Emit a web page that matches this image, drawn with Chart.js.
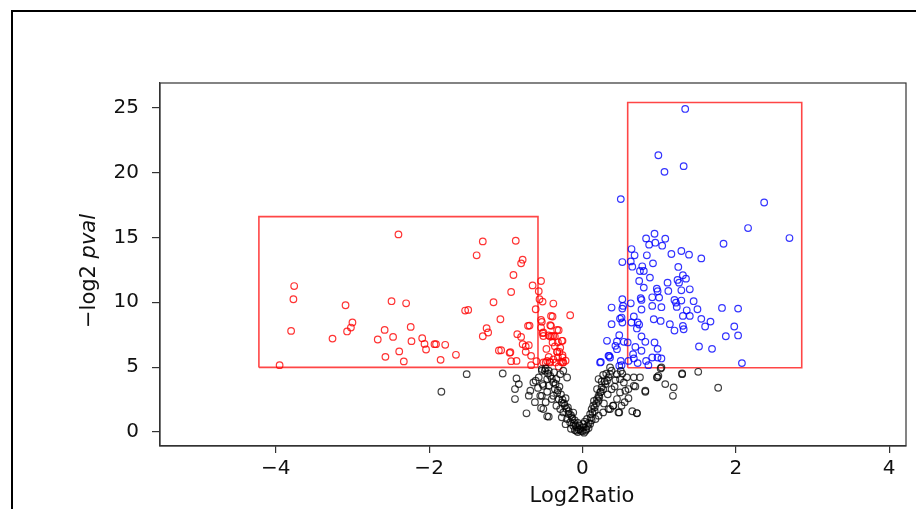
<!DOCTYPE html>
<html>
<head>
<meta charset="utf-8">
<script src="https://cdn.jsdelivr.net/npm/chart.js@4.4.1/dist/chart.umd.min.js"></script>
<style>
  html, body { margin: 0; padding: 0; background: #fff; overflow: hidden; }
  canvas { display: block; }
</style>
</head>
<body>
<canvas id="volcano" width="916" height="509"></canvas>
<script>
// axis ranges and ticks
const xRange = [-5.51, 4.22];
const yRange = [-1.08, 26.9];
const xTicks = [-4, -2, 0, 2, 4];
const yTicks = [0, 5, 10, 15, 20, 25];

// selection boxes [x0, x1] / [y0, y1]
const leftBoxX = [-4.22, -0.58];
const leftBoxY = [4.98, 16.6];
const rightBoxX = [0.59, 2.86];
const rightBoxY = [4.95, 25.4];

// down-regulated (red)
const redPoints = [
  [-3.95, 5.15], [-3.76, 11.25], [-3.77, 10.23], [-3.80, 7.79], [-3.26, 7.2],
  [-3.09, 9.77], [-3.0, 8.44], [-3.02, 8.05], [-3.07, 7.75], [-2.40, 15.23],
  [-2.49, 10.08], [-2.30, 9.92], [-2.58, 7.87], [-2.67, 7.13], [-2.47, 7.33],
  [-2.57, 5.79], [-2.39, 6.21], [-2.33, 5.44], [-2.24, 8.10], [-2.23, 7.0],
  [-2.09, 7.23], [-2.06, 6.79], [-2.04, 6.36], [-1.93, 6.77], [-1.91, 6.77],
  [-1.79, 6.72], [-1.85, 5.56], [-1.65, 5.95], [-1.53, 9.36], [-1.49, 9.41],
  [-1.38, 13.62], [-1.30, 14.69], [-1.16, 10.0], [-1.07, 8.69], [-1.25, 8.0],
  [-1.23, 7.67], [-1.30, 7.38], [-1.09, 6.28], [-1.06, 6.3], [-0.87, 14.74],
  [-0.78, 13.28], [-0.80, 13.0], [-0.90, 12.1], [-0.93, 10.79], [-0.65, 11.3],
  [-0.54, 11.64], [-0.57, 10.85], [-0.56, 10.23], [-0.52, 10.05], [-0.61, 9.46],
  [-0.38, 9.9], [-0.41, 8.95], [-0.39, 8.9], [-0.16, 9.0], [-0.71, 8.18],
  [-0.69, 8.2], [-0.54, 8.64], [-0.54, 8.05], [-0.41, 8.18], [-0.31, 7.85],
  [-0.52, 7.62], [-0.51, 7.4], [-0.42, 7.36], [-0.40, 7.38], [-0.39, 6.9],
  [-0.32, 6.92], [-0.26, 7.03], [-0.85, 7.54], [-0.80, 7.33], [-0.78, 6.77],
  [-0.74, 6.6], [-0.70, 6.69], [-0.74, 6.18], [-0.67, 5.87], [-0.95, 6.1],
  [-0.94, 6.15], [-0.93, 5.46], [-0.86, 5.48], [-0.67, 5.15], [-0.60, 5.46],
  [-0.44, 5.79], [-0.43, 5.41], [-0.33, 6.18], [-0.30, 6.18], [-0.32, 5.74],
  [-0.26, 5.92], [-0.26, 5.36], [-0.35, 5.36], [-0.48, 5.36], [-0.31, 5.05],
  [-0.53, 8.49], [-0.42, 8.23], [-0.33, 7.87], [-0.51, 7.67], [-0.44, 7.44],
  [-0.38, 7.41], [-0.36, 7.36], [-0.27, 7.03], [-0.33, 6.18], [-0.26, 5.74],
  [-0.38, 5.6], [-0.28, 5.4], [-0.25, 5.36], [-0.46, 5.48], [-0.51, 5.36],
  [-0.42, 5.36], [-0.47, 6.4], [-0.36, 6.6], [-0.29, 6.5], [-0.22, 5.5]
];

// up-regulated (blue)
const bluePoints = [
  [1.34, 24.9], [0.99, 21.33], [1.07, 20.05], [1.32, 20.49], [0.50, 17.95],
  [2.37, 17.69], [2.16, 15.72], [2.70, 14.95], [1.84, 14.51], [0.83, 14.92],
  [0.94, 15.28], [1.08, 14.9], [0.87, 14.44], [0.95, 14.59], [1.04, 14.36],
  [0.64, 14.1], [0.68, 13.62], [0.52, 13.1], [0.63, 13.15], [0.65, 12.74],
  [0.84, 13.62], [0.92, 13.0], [0.78, 12.77], [0.75, 12.41], [0.80, 12.41],
  [1.16, 13.72], [1.29, 13.95], [1.39, 13.67], [1.55, 13.38], [1.25, 12.72],
  [0.88, 11.9], [0.74, 11.64], [0.80, 11.13], [1.24, 11.72], [1.26, 11.51],
  [1.31, 12.08], [1.35, 11.82], [1.11, 11.51], [1.12, 10.87], [1.29, 10.92],
  [1.40, 11.0], [0.97, 11.05], [0.98, 10.85], [0.76, 10.31], [0.77, 10.18],
  [0.91, 10.38], [1.0, 10.36], [0.52, 10.23], [0.63, 9.92], [0.52, 9.51],
  [0.77, 9.44], [0.91, 9.72], [1.03, 9.62], [1.20, 10.18], [1.22, 9.97],
  [1.23, 9.64], [1.29, 10.13], [1.45, 10.08], [1.50, 9.46], [1.36, 9.38],
  [1.31, 8.95], [1.40, 8.95], [1.82, 9.56], [2.03, 9.51], [1.67, 8.51],
  [1.55, 8.72], [1.60, 8.13], [1.98, 8.13], [1.87, 7.38], [2.03, 7.44],
  [1.52, 6.59], [1.69, 6.41], [2.08, 5.31], [1.14, 8.31], [1.20, 7.82],
  [1.31, 8.18], [1.32, 7.92], [0.93, 8.69], [1.02, 8.56], [0.67, 8.9],
  [0.72, 8.44], [0.64, 8.44], [0.74, 8.28], [0.71, 7.98], [0.49, 8.74],
  [0.52, 8.44], [0.38, 8.31], [0.48, 7.46], [0.45, 6.98], [0.54, 6.95],
  [0.59, 6.9], [0.32, 7.03], [0.43, 6.64], [0.45, 6.38], [0.77, 7.36],
  [0.82, 6.95], [0.69, 6.56], [0.77, 6.26], [0.94, 6.9], [0.98, 6.41],
  [0.34, 5.87], [0.36, 5.74], [0.23, 5.36], [0.51, 5.15], [0.60, 5.48],
  [0.66, 6.0], [0.67, 5.67], [0.72, 5.31], [0.83, 5.48], [0.86, 5.15],
  [0.91, 5.74], [0.98, 5.74], [1.03, 5.67], [0.38, 9.59], [0.53, 9.72],
  [0.51, 8.82], [0.35, 5.87], [0.24, 5.4], [0.50, 5.48], [0.48, 5.1]
];

// not significant (black)
const blackPoints = [
  [-1.51, 4.46], [-1.84, 3.1], [-1.04, 4.51], [-0.86, 4.13], [-0.88, 3.31],
  [-0.88, 2.54], [-0.73, 1.44], [-0.54, 1.85], [-0.44, 1.18], [-0.68, 3.18],
  [-0.83, 3.69], [-0.64, 3.82], [-0.61, 3.95], [-0.57, 4.21], [-0.53, 4.72],
  [-0.48, 4.9], [-0.44, 4.72], [-0.51, 3.56], [-0.46, 3.1], [-0.55, 2.79],
  [-0.53, 4.85], [-0.49, 4.72], [-0.46, 4.08], [-0.52, 3.69], [-0.44, 3.56],
  [-0.42, 4.33], [-0.36, 3.31], [-0.38, 2.79], [-0.31, 2.54], [-0.34, 2.03],
  [-0.29, 1.77], [-0.25, 1.51], [-0.27, 1.13], [-0.20, 1.0], [-0.16, 0.74],
  [-0.12, 0.49], [-0.07, 0.36], [-0.03, 0.23], [0.01, 0.36], [-0.14, 1.13],
  [-0.18, 1.38], [-0.23, 2.03], [-0.27, 2.28], [-0.38, 3.82], [-0.34, 4.08],
  [-0.29, 4.46], [-0.25, 4.72], [-0.51, 1.77], [-0.46, 1.21], [-0.53, 2.79],
  [-0.40, 2.54], [-0.33, 3.0], [-0.30, 3.5], [-0.22, 2.6], [-0.19, 1.9],
  [-0.12, 1.5], [-0.10, 0.9], [-0.22, 0.6], [-0.15, 0.25], [-0.08, 0.1],
  [0.01, 0.62], [0.06, 1.0], [0.10, 1.38], [0.12, 1.77], [0.14, 2.03],
  [0.19, 2.54], [0.21, 2.79], [0.23, 3.05], [0.25, 3.44], [0.30, 3.69],
  [0.32, 3.95], [0.34, 4.21], [0.36, 4.46], [0.38, 4.72], [0.45, 4.46],
  [0.49, 4.08], [0.54, 3.82], [0.58, 4.21], [0.60, 3.31], [0.49, 3.05],
  [0.45, 2.54], [0.40, 2.03], [0.34, 1.77], [0.27, 1.51], [0.21, 1.26],
  [0.17, 1.0], [0.10, 0.62], [0.47, 1.51], [0.71, 1.44], [0.82, 3.18],
  [0.69, 3.51], [0.97, 4.21], [0.19, 3.31], [0.21, 4.08], [0.36, 4.97],
  [0.67, 4.21], [0.75, 4.21], [0.98, 4.21], [1.08, 3.69], [1.19, 3.44],
  [1.18, 2.79], [1.30, 4.51], [1.51, 4.64], [1.77, 3.41], [1.02, 4.9],
  [0.82, 3.1], [0.71, 1.46], [0.48, 1.51], [0.67, 3.56], [0.56, 3.18],
  [0.51, 2.03], [0.40, 2.03], [0.36, 1.77], [0.21, 2.41], [0.99, 4.33],
  [1.30, 4.46], [1.03, 4.97], [0.28, 2.2], [0.16, 1.6], [0.25, 3.9],
  [0.42, 3.5], [0.08, 0.3], [0.04, 0.1], [0.0, 0.05], [-0.04, 0.5],
  [0.03, 0.8], [-0.06, 0.7], [0.06, 0.45], [-0.1, 0.15], [0.12, 0.9],
  [0.15, 2.4], [0.27, 4.4], [-0.37, 4.6], [-0.2, 4.2], [0.5, 4.7],
  [-0.45, 4.5], [-0.40, 4.1], [-0.35, 3.7], [-0.32, 3.2], [-0.28, 2.9],
  [-0.26, 2.5], [-0.24, 2.2], [-0.21, 1.8], [-0.18, 1.6], [-0.15, 1.3],
  [-0.13, 1.0], [-0.11, 0.7], [-0.09, 0.5], [-0.05, 0.2], [-0.02, 0.1],
  [-0.06, 0.0], [0.02, -0.05], [-0.58, 3.4], [-0.62, 2.3], [-0.70, 2.8],
  [-0.48, 2.3], [0.05, 0.2], [0.08, 0.7], [0.11, 1.1], [0.13, 1.5],
  [0.16, 1.9], [0.18, 2.2], [0.22, 2.7], [0.24, 3.1], [0.27, 3.3],
  [0.29, 3.9], [0.31, 4.5], [0.33, 2.9], [0.38, 3.3], [0.43, 4.0],
  [0.52, 4.5], [0.60, 2.6], [0.65, 1.6], [0.55, 2.3]
];

function boxPath(bx, by) {
  return [
    { x: bx[0], y: by[0] }, { x: bx[1], y: by[0] },
    { x: bx[1], y: by[1] }, { x: bx[0], y: by[1] },
    { x: bx[0], y: by[0] }
  ];
}

function toXY(list) {
  return list.map(p => ({ x: p[0], y: p[1] }));
}

const FONT = "'DejaVu Sans', sans-serif";

function circles(list, color) {
  return {
    type: 'scatter',
    data: toXY(list),
    pointStyle: 'circle',
    pointRadius: 3.3,
    pointBorderWidth: 1.2,
    pointBackgroundColor: 'rgba(0,0,0,0)',
    pointBorderColor: color,
    showLine: false
  };
}

function box(bx, by) {
  return {
    type: 'line',
    data: boxPath(bx, by),
    borderColor: 'rgba(255,50,50,0.9)',
    borderWidth: 1.6,
    pointRadius: 0,
    fill: false,
    tension: 0
  };
}

// frame, outer border and axis titles
const decor = {
  id: 'decor',
  afterDraw(chart) {
    const ctx = chart.ctx;
    const a = chart.chartArea;
    ctx.save();
    ctx.strokeStyle = '#000';
    ctx.lineWidth = 2;
    ctx.strokeRect(12, 11, 1200, 1200);

    ctx.strokeStyle = '#333';
    ctx.lineWidth = 1.2;
    ctx.strokeRect(a.left, a.top, a.right - a.left, a.bottom - a.top);

    ctx.fillStyle = '#111';
    ctx.textBaseline = 'middle';
    ctx.textAlign = 'center';
    ctx.font = '21px ' + FONT;
    ctx.fillText('Log2Ratio', 582, 497);

    ctx.translate(90, 271);
    ctx.rotate(-Math.PI / 2);
    const plain = '\u2212log2 ';
    const ital = 'pval';
    ctx.font = '21px ' + FONT;
    const w1 = ctx.measureText(plain).width;
    ctx.font = 'italic 21px ' + FONT;
    const w2 = ctx.measureText(ital).width;
    ctx.textAlign = 'left';
    ctx.font = '21px ' + FONT;
    ctx.fillText(plain, -(w1 + w2) / 2, 0);
    ctx.font = 'italic 21px ' + FONT;
    ctx.fillText(ital, -(w1 + w2) / 2 + w1, 0);
    ctx.restore();
  }
};

const fmt = v => String(v).replace('-', '\u2212');

new Chart(document.getElementById('volcano'), {
  data: {
    datasets: [
      circles(blackPoints, 'rgba(0,0,0,0.75)'),
      circles(redPoints, 'rgba(255,0,0,0.8)'),
      circles(bluePoints, 'rgba(0,0,255,0.8)'),
      box(leftBoxX, leftBoxY),
      box(rightBoxX, rightBoxY)
    ]
  },
  options: {
    responsive: false,
    animation: false,
    devicePixelRatio: 1,
    layout: { padding: { left: 0, top: 83, right: 10, bottom: 0 } },
    plugins: { legend: { display: false }, tooltip: { enabled: false } },
    scales: {
      x: {
        type: 'linear',
        min: xRange[0],
        max: xRange[1],
        afterBuildTicks: s => { s.ticks = xTicks.map(v => ({ value: v })); },
        afterFit: s => { s.height = 63; },
        grid: { display: true, drawOnChartArea: false, drawTicks: true, tickLength: 7, color: '#333', lineWidth: 1.2 },
        border: { display: true, color: '#333', width: 1.2 },
        ticks: { color: '#111', padding: 4, font: { family: FONT, size: 20 }, callback: fmt, maxRotation: 0 }
      },
      y: {
        type: 'linear',
        min: yRange[0],
        max: yRange[1],
        afterBuildTicks: s => { s.ticks = yTicks.map(v => ({ value: v })); },
        afterFit: s => { s.width = 160; },
        grid: { display: true, drawOnChartArea: false, drawTicks: true, tickLength: 8, color: '#333', lineWidth: 1.2 },
        border: { display: true, color: '#333', width: 1.2 },
        ticks: { color: '#111', padding: 13, font: { family: FONT, size: 20 }, callback: fmt }
      }
    }
  },
  plugins: [decor]
});
</script>
</body>
</html>
